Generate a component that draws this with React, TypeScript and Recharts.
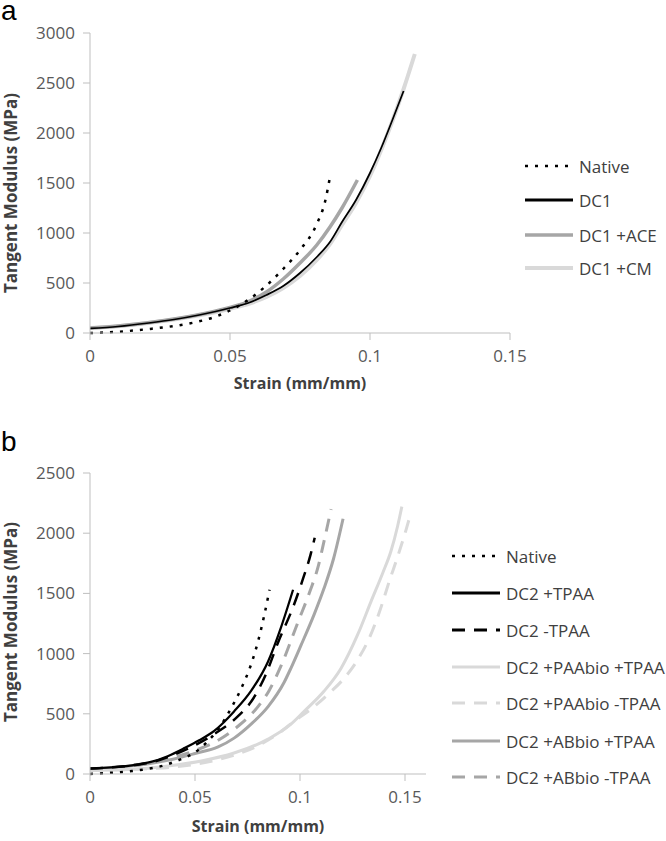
import { LineChart, Line, XAxis, YAxis } from 'recharts'

type Pt = [number, number]

// ---- panel a : strain (mm/mm) vs tangent modulus (MPa)
const A_NATIVE: Pt[] = [
  [0, 0], [0.01, 12], [0.021, 40], [0.03, 70], [0.038, 110], [0.045, 165], [0.05, 225],
  [0.057, 340], [0.062, 450], [0.069, 640], [0.075, 830], [0.081, 1090], [0.084, 1320], [0.0857, 1560],
]
const A_DC1: Pt[] = [
  [0, 45], [0.01, 65], [0.021, 100], [0.03, 135], [0.039, 180], [0.05, 250], [0.057, 305],
  [0.063, 380], [0.069, 470], [0.075, 600], [0.081, 760], [0.0857, 910], [0.09, 1110],
  [0.095, 1330], [0.1, 1600], [0.104, 1850], [0.108, 2130], [0.112, 2420],
]
const A_ACE: Pt[] = [
  [0, 50], [0.01, 70], [0.02, 100], [0.03, 140], [0.04, 190], [0.05, 255], [0.057, 320],
  [0.063, 410], [0.069, 540], [0.075, 700], [0.081, 880], [0.0857, 1060], [0.09, 1250], [0.0955, 1530],
]
const A_CM: Pt[] = [
  [0, 50], [0.01, 68], [0.02, 98], [0.03, 135], [0.04, 182], [0.05, 242], [0.057, 295],
  [0.063, 360], [0.069, 450], [0.075, 570], [0.081, 730], [0.0857, 890], [0.09, 1080],
  [0.095, 1300], [0.1, 1570], [0.104, 1830], [0.108, 2120], [0.112, 2440], [0.116, 2790],
]

// ---- panel b
const B_NATIVE: Pt[] = [
  [0, 0], [0.01, 10], [0.02, 25], [0.03, 50], [0.035, 70], [0.04, 100], [0.045, 135], [0.05, 180],
  [0.056, 270], [0.061, 370], [0.067, 540], [0.072, 710], [0.0767, 910], [0.08, 1100], [0.083, 1320], [0.0855, 1530],
]
const B_TPAA_P: Pt[] = [
  [0, 45], [0.01, 55], [0.02, 72], [0.029, 100], [0.037, 148], [0.045, 215], [0.052, 280],
  [0.059, 356], [0.0686, 520], [0.0767, 690], [0.0848, 935], [0.091, 1220], [0.0967, 1530],
]
const B_TPAA_M: Pt[] = [
  [0, 45], [0.01, 55], [0.02, 72], [0.03, 100], [0.04, 160], [0.05, 240], [0.059, 330],
  [0.0705, 480], [0.0767, 600], [0.0838, 830], [0.0895, 1090], [0.097, 1400], [0.1014, 1620],
  [0.105, 1820], [0.107, 1962],
]
const B_PAABIO_P: Pt[] = [
  [0, 30], [0.01, 34], [0.02, 40], [0.029, 50], [0.037, 66], [0.053, 108], [0.0686, 174],
  [0.0848, 290], [0.0957, 414], [0.102, 521], [0.1114, 687], [0.1195, 877], [0.1275, 1159],
  [0.1338, 1432], [0.1394, 1670], [0.1433, 1850], [0.1465, 2060], [0.1485, 2221],
]
const B_PAABIO_M: Pt[] = [
  [0, 30], [0.01, 33], [0.02, 38], [0.03, 46], [0.04, 58], [0.05, 80], [0.06, 115], [0.07, 165],
  [0.08, 235], [0.09, 340], [0.0973, 439], [0.1052, 538], [0.1132, 660], [0.1211, 797],
  [0.1275, 950], [0.133, 1130], [0.1381, 1360], [0.1425, 1600], [0.1465, 1806], [0.1505, 2028], [0.1529, 2177],
]
const B_ABBIO_P: Pt[] = [
  [0, 40], [0.01, 50], [0.02, 68], [0.03, 92], [0.04, 125], [0.05, 170], [0.061, 225],
  [0.0686, 298], [0.0767, 414], [0.0848, 560], [0.0924, 760], [0.0957, 880], [0.1005, 1070],
  [0.1067, 1324], [0.1114, 1540], [0.116, 1790], [0.1205, 2120],
]
const B_ABBIO_M: Pt[] = [
  [0, 40], [0.01, 52], [0.02, 70], [0.03, 97], [0.04, 140], [0.05, 195], [0.06, 270], [0.07, 390],
  [0.08, 560], [0.0852, 690], [0.091, 900], [0.099, 1260], [0.105, 1530], [0.1086, 1720],
  [0.1114, 1930], [0.1148, 2200],
]

const X_TICKS = [0, 0.05, 0.1, 0.15]
const A_Y_TICKS = [0, 500, 1000, 1500, 2000, 2500, 3000]
const B_Y_TICKS = [0, 500, 1000, 1500, 2000, 2500]

const FONT = '"Open Sans", sans-serif'
const AXIS = '#bfbfbf'
const tickStyle = { fill: '#595959', fontSize: 17, fontFamily: FONT }
const DOT = '3 7'
const DASH = '13 9'

interface Series {
  name: string
  pts: Pt[]
  color: string
  width: number
  legendWidth?: number
  dash?: string
}

const A_SERIES: Series[] = [
  { name: 'Native', pts: A_NATIVE, color: '#000', width: 2.5, dash: DOT },
  { name: 'DC1', pts: A_DC1, color: '#000', width: 1.75, legendWidth: 3 },
  { name: 'DC1 +ACE', pts: A_ACE, color: '#a6a6a6', width: 3.5 },
  { name: 'DC1 +CM', pts: A_CM, color: '#d9d9d9', width: 4 },
]

const B_SERIES: Series[] = [
  { name: 'Native', pts: B_NATIVE, color: '#000', width: 2.5, dash: DOT },
  { name: 'DC2 +TPAA', pts: B_TPAA_P, color: '#000', width: 2.25, legendWidth: 3 },
  { name: 'DC2 -TPAA', pts: B_TPAA_M, color: '#000', width: 2.5, legendWidth: 3, dash: DASH },
  { name: 'DC2 +PAAbio +TPAA', pts: B_PAABIO_P, color: '#d9d9d9', width: 3 },
  { name: 'DC2 +PAAbio -TPAA', pts: B_PAABIO_M, color: '#d9d9d9', width: 3, dash: DASH },
  { name: 'DC2 +ABbio +TPAA', pts: B_ABBIO_P, color: '#a6a6a6', width: 3 },
  { name: 'DC2 +ABbio -TPAA', pts: B_ABBIO_M, color: '#a6a6a6', width: 3, dash: DASH },
]

const toRows = (pts: Pt[]) => pts.map(([x, y]) => ({ x, y }))

function Panel({ series, width, height, margin, xMax, yMax, yTicks }: {
  series: Series[]
  width: number
  height: number
  margin: { top: number; right: number; bottom: number; left: number }
  xMax: number
  yMax: number
  yTicks: number[]
}) {
  // excel draws later series on top; here the dark lines must stay visible
  const drawOrder = [...series].reverse()
  return (
    <LineChart width={width} height={height} margin={margin}>
      <XAxis
        type="number" dataKey="x" domain={[0, xMax]} ticks={X_TICKS}
        tickFormatter={(v: number) => String(v)} allowDataOverflow
        stroke={AXIS} tick={tickStyle} tickSize={7} tickMargin={10} height={30}
      />
      <YAxis
        type="number" dataKey="y" domain={[0, yMax]} ticks={yTicks}
        stroke={AXIS} tick={tickStyle} tickSize={7} tickMargin={8} width={60}
      />
      {drawOrder.map(s => (
        <Line
          key={s.name} data={toRows(s.pts)} dataKey="y" type="monotone"
          stroke={s.color} strokeWidth={s.width} strokeDasharray={s.dash}
          dot={false} activeDot={false} isAnimationActive={false}
        />
      ))}
    </LineChart>
  )
}

function LegendBox({ series, left, textLeft, rows }: { series: Series[]; left: number; textLeft: number; rows: number[] }) {
  return (
    <>
      {series.map((s, i) => (
        <div key={s.name} style={{ position: 'absolute', left, top: rows[i] - 12, height: 24, display: 'flex', alignItems: 'center' }}>
          <svg width={textLeft - left - 6} height={24} style={{ display: 'block' }}>
            <line x1={0} x2={48} y1={12} y2={12} stroke={s.color}
              strokeWidth={s.legendWidth ?? s.width} strokeDasharray={s.dash} />
          </svg>
          <span style={{ marginLeft: 6, fontFamily: FONT, fontSize: 17, color: '#404040', whiteSpace: 'nowrap' }}>{s.name}</span>
        </div>
      ))}
    </>
  )
}

const yTitle = (top: number) => (
  <div style={{
    position: 'absolute', left: 10, top, transform: 'translate(-50%, -50%) rotate(-90deg)',
    fontFamily: FONT, fontWeight: 700, fontSize: 17, color: '#404040', whiteSpace: 'nowrap',
  }}>Tangent Modulus (MPa)</div>
)

const xTitle = (center: number, top: number) => (
  <div style={{
    position: 'absolute', left: center, top, transform: 'translateX(-50%)', lineHeight: '20px',
    fontFamily: FONT, fontWeight: 700, fontSize: 16, color: '#404040', whiteSpace: 'nowrap',
  }}>Strain (mm/mm)</div>
)

const panelLetter = (text: string, top: number) => (
  <div style={{
    position: 'absolute', left: 1, top, lineHeight: '22px',
    fontFamily: '"Liberation Sans", Arial, sans-serif', fontSize: 28, color: '#000',
  }}>{text}</div>
)

export default function App() {
  return (
    <div style={{ position: 'absolute', left: 0, top: 0, width: 666, height: 841, background: '#fff', overflow: 'hidden' }}>
      <div style={{ position: 'absolute', left: 0, top: 0 }}>
        <Panel series={A_SERIES} width={666} height={420}
          margin={{ top: 33, right: 156, bottom: 57, left: 30 }}
          xMax={0.15} yMax={3000} yTicks={A_Y_TICKS} />
      </div>
      <div style={{ position: 'absolute', left: 0, top: 420 }}>
        <Panel series={B_SERIES} width={666} height={421}
          margin={{ top: 53, right: 240, bottom: 37, left: 30 }}
          xMax={0.16} yMax={2500} yTicks={B_Y_TICKS} />
      </div>

      {panelLetter('a', 0)}
      {panelLetter('b', 431)}
      {yTitle(193)}
      {yTitle(622)}
      {xTitle(300, 373)}
      {xTitle(258, 816)}

      <LegendBox series={A_SERIES} left={525} textLeft={579} rows={[166, 200, 235, 268]} />
      <LegendBox series={B_SERIES} left={452} textLeft={506} rows={[556, 593, 630, 667, 703, 741, 777]} />
    </div>
  )
}
